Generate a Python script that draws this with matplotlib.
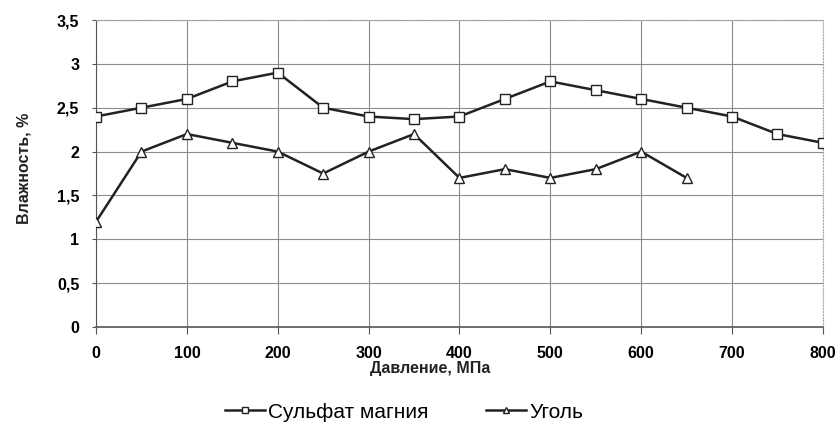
import matplotlib
matplotlib.use("Agg")
import matplotlib.pyplot as plt
from matplotlib.ticker import FuncFormatter

plt.rcParams['font.family'] = ['Liberation Sans', 'DejaVu Sans']

# давление, МПа
pressure_mgso4 = [0, 50, 100, 150, 200, 250, 300, 350, 400, 450, 500, 550, 600, 650, 700, 750, 800]
moisture_mgso4 = [2.4, 2.5, 2.6, 2.8, 2.9, 2.5, 2.4, 2.37, 2.4, 2.6, 2.8, 2.7, 2.6, 2.5, 2.4, 2.2, 2.1]

pressure_coal = [0, 50, 100, 150, 200, 250, 300, 350, 400, 450, 500, 550, 600, 650]
moisture_coal = [1.2, 2.0, 2.2, 2.1, 2.0, 1.75, 2.0, 2.2, 1.7, 1.8, 1.7, 1.8, 2.0, 1.7]

x_ticks = [0, 100, 200, 300, 400, 500, 600, 700, 800]
y_ticks = [0, 0.5, 1, 1.5, 2, 2.5, 3, 3.5]

fig = plt.figure(figsize=(8.38, 4.22), dpi=100)
ax = fig.add_axes([0.1146, 0.225, 0.8674, 0.7276])

ax.plot(pressure_mgso4, moisture_mgso4, color='#222222', lw=1.8, marker='s',
        markersize=6.5, markerfacecolor='white', markeredgecolor='#222222',
        markeredgewidth=1.0, label='Сульфат магния', zorder=3)
ax.plot(pressure_coal, moisture_coal, color='#222222', lw=1.8, marker='^',
        markersize=6.5, markerfacecolor='white', markeredgecolor='#222222',
        markeredgewidth=1.0, label='Уголь', zorder=3)

ax.set_xlim(0, 800)
ax.set_ylim(0, 3.5)
ax.set_xticks(x_ticks)
ax.set_yticks(y_ticks)
ax.yaxis.set_major_formatter(FuncFormatter(lambda v, p: f"{v:g}".replace('.', ',')))

ax.grid(True, color='#8c8c8c', lw=0.8)
ax.set_axisbelow(True)

for side in ['top', 'right']:
    ax.spines[side].set_color('#aaaaaa')
    ax.spines[side].set_linestyle(':')
ax.spines['left'].set_color('#555555')
ax.spines['bottom'].set_color('#555555')
ax.spines['bottom'].set_linewidth(1.2)

ax.tick_params(axis='y', length=3, color='#555555', labelsize=11.5, pad=9)
ax.tick_params(axis='x', length=5, color='#555555', labelsize=11.5, pad=9)
for lbl in ax.get_xticklabels() + ax.get_yticklabels():
    lbl.set_fontweight('bold')

# подписи осей
fig.text(430 / 838, 1 - 369 / 422, 'Давление, МПа', ha='center', va='center',
         fontsize=11.5, fontweight='bold', color='#222222')
fig.text(24 / 838, 1 - 168 / 422, 'Влажность, %', ha='center', va='center',
         rotation=90, fontsize=11.5, fontweight='bold', color='#222222')

fig.legend(handles=ax.get_lines(), loc='center', bbox_to_anchor=(404 / 838, 1 - 412 / 422),
           ncol=2, frameon=False, fontsize=15, handlelength=1.9, columnspacing=2.8,
           handletextpad=0.15, markerscale=0.7, borderpad=0)

fig.savefig('out.png', dpi=100)
